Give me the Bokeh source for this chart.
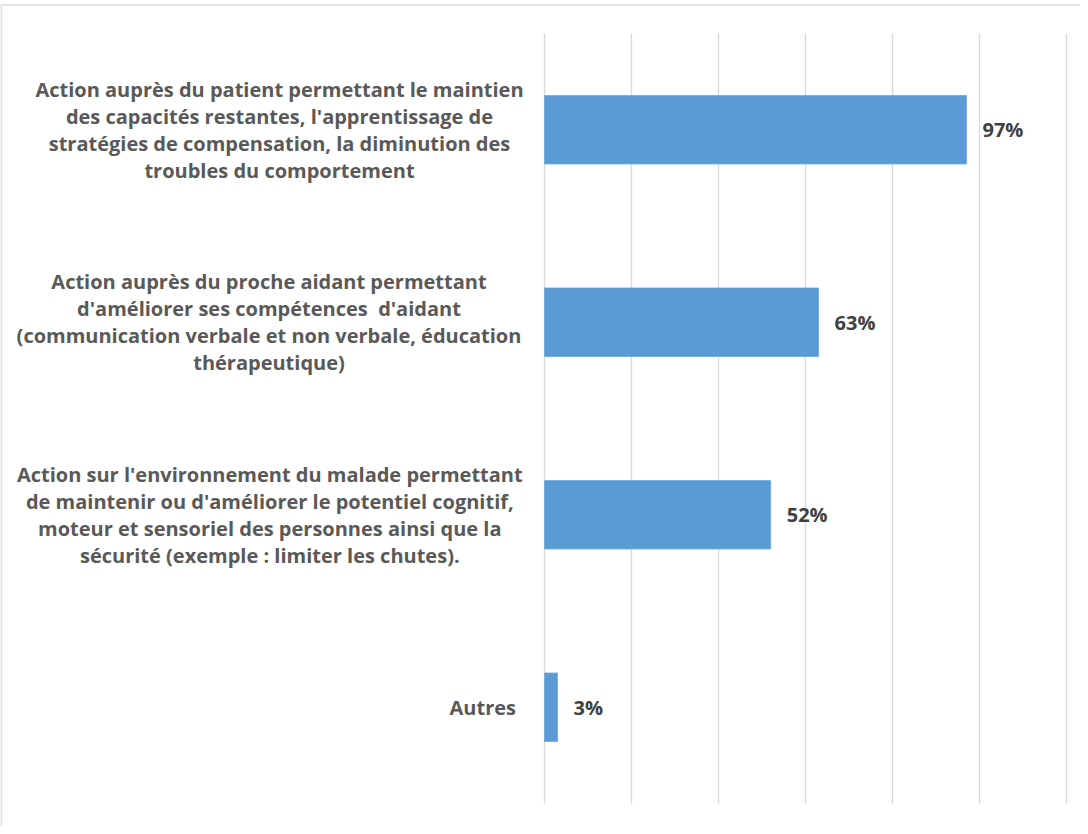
from bokeh.plotting import figure
from bokeh.models import Range1d, ColumnDataSource
from bokeh.core.properties import value
from bokeh.embed import file_html
from bokeh.resources import INLINE

# ---------------- data ----------------
categories = [
    "Action auprès du patient permettant le maintien\ndes capacités restantes, l'apprentissage de\nstratégies de compensation, la diminution des\ntroubles du comportement",
    "Action auprès du proche aidant permettant\nd'améliorer ses compétences\u00a0 d'aidant\n(communication verbale et non verbale, éducation\nthérapeutique)",
    "Action sur l'environnement du malade permettant\nde maintenir ou d'améliorer le potentiel cognitif,\nmoteur et sensoriel des personnes ainsi que la\nsécurité (exemple : limiter les chutes).",
    "Autres",
]
values = [0.97, 0.63, 0.52, 0.03]
value_labels = ["97%", "63%", "52%", "3%"]
grid_ticks = [0.0, 0.2, 0.4, 0.6, 0.8, 1.0, 1.2]

# ---------------- layout (pixels) ----------------
W, H = 1080, 826
ZERO_PX = 544.0        # canvas x of 0 %
PX_PER_UNIT = 435.0    # pixels for 100 %
CAT0_PX = 129.25       # canvas y of first category centre
CAT_STEP = 192.5       # pixels between categories
LABEL_PAD_PX = 16.0
# text block anchor (canvas x) and alignment for each category label
label_anchor_px = [279.0, 268.5, 269.3, 515.5]
label_align = ["center", "center", "center", "right"]

def px_to_x(px):
    return (px - ZERO_PX) / PX_PER_UNIT

def py_to_y(py):
    return (py - CAT0_PX) / CAT_STEP

idx = list(range(len(categories)))

p = figure(
    width=W, height=H,
    x_range=Range1d(px_to_x(0), px_to_x(W)),
    y_range=Range1d(py_to_y(H), py_to_y(0)),
    output_backend="svg", toolbar_location=None,
    min_border=0,
)
p.axis.visible = False
p.grid.visible = False
p.outline_line_color = None
p.background_fill_color = "white"
p.border_fill_color = "white"

# chart border (top + left, the rest is outside the picture)
p.segment(x0=[px_to_x(0)], y0=[py_to_y(4.5)], x1=[px_to_x(W)], y1=[py_to_y(4.5)],
          line_color="#d9d9d9", line_width=1.3)
p.segment(x0=[px_to_x(0.5)], y0=[py_to_y(4.5)], x1=[px_to_x(0.5)], y1=[py_to_y(H)],
          line_color="#d9d9d9", line_width=1.5)

# vertical gridlines
n = len(categories)
p.segment(x0=grid_ticks, y0=[-0.5] * len(grid_ticks), x1=grid_ticks, y1=[n - 0.5] * len(grid_ticks),
          line_color="#d9d9d9", line_width=1.3)

# bars
src = ColumnDataSource(dict(y=idx, v=values, lab=value_labels,
                            lx=[v + LABEL_PAD_PX / PX_PER_UNIT for v in values]))
p.hbar(y="y", left=0, right="v", height=0.356, source=src,
       fill_color="#5B9BD5", line_color="#6fa8dc", line_width=0.8)

# value labels
p.text(x="lx", y="y", text="lab", source=src,
       text_font=value("Open Sans"), text_font_style="bold", text_font_size="20px",
       text_color="#404040", text_align="left", text_baseline="middle")

# category labels
for i, (cat, apx, al) in enumerate(zip(categories, label_anchor_px, label_align)):
    p.text(x=[px_to_x(apx)], y=[i], text=[cat],
           text_font=value("Open Sans"), text_font_style="bold", text_font_size="20px",
           text_color="#595959", text_align=al, text_baseline="middle",
           text_line_height=1.0)

open("out.html", "w").write(file_html(p, INLINE))
